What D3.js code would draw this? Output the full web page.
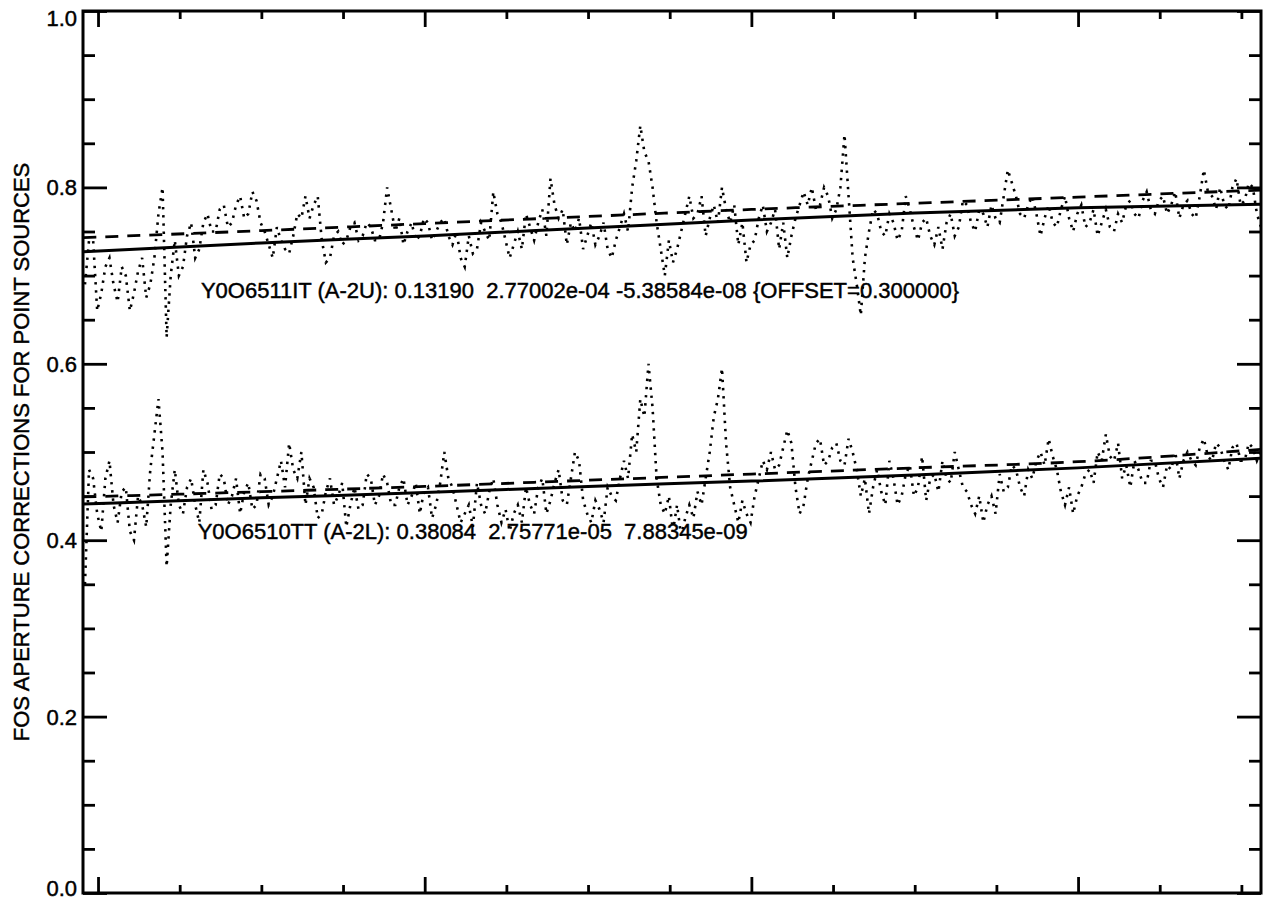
<!DOCTYPE html>
<html lang="en">
<head>
  <meta charset="utf-8"/>
  <title>FOS Aperture Corrections</title>
  <script src="https://d3js.org/d3.v7.min.js"></script>
  <style>
    html, body { margin: 0; padding: 0; background: #fff; }
    svg { display: block; font-family: "Liberation Sans", Arial, Helvetica, sans-serif; }
    svg text { fill: #000; stroke: #000; stroke-width: 0.45px; }
    .note { white-space: pre; }
  </style>
</head>
<body>
<svg id="chart" width="1270" height="901"></svg>
<script>
  // wavelength grid of the sampled spectra (Angstrom)
  const wave = d3.range(1592, 2312.1, 2.5);

  // A-2U ratio (already offset by +0.3)
  const upperVals = [
    0.69,0.74, 0.74,0.66, 0.68,0.71, 0.72,0.69, 0.67,0.71, 0.70,0.66, 0.68,0.705, 0.72,0.675, 0.69,0.72, 0.77,0.80,
    0.63,0.70, 0.74,0.70, 0.71,0.745, 0.76,0.72, 0.73,0.76, 0.77,0.75, 0.75,0.775, 0.78,0.755, 0.76,0.78, 0.79,0.765,
    0.77,0.795, 0.785,0.76, 0.75,0.735, 0.72,0.755, 0.74,0.73, 0.725,0.745, 0.77,0.765, 0.79,0.765, 0.78,0.79, 0.74,0.715,
    0.72,0.745, 0.75,0.735, 0.74,0.755, 0.76,0.74, 0.745,0.76, 0.755,0.74, 0.74,0.76, 0.80,0.775, 0.75,0.765, 0.735,0.75,
    0.76,0.74, 0.745,0.765, 0.76,0.74, 0.75,0.76, 0.765,0.745, 0.735,0.75, 0.72,0.71, 0.745,0.725, 0.73,0.76, 0.75,0.74,
    0.795,0.77, 0.76,0.74, 0.72,0.735, 0.75,0.73, 0.77,0.755, 0.74,0.76, 0.775,0.745, 0.81,0.78, 0.765,0.775, 0.735,0.76,
    0.75,0.765, 0.73,0.745, 0.76,0.735, 0.745,0.76, 0.73,0.72, 0.74,0.755, 0.77,0.75, 0.80,0.83, 0.87,0.84, 0.83,0.80,
    0.76,0.73, 0.70,0.74, 0.715,0.73, 0.75,0.77, 0.79,0.765, 0.77,0.79, 0.745,0.765, 0.78,0.76, 0.80,0.775, 0.76,0.78,
    0.735,0.76, 0.715,0.735, 0.74,0.765, 0.78,0.75, 0.76,0.775, 0.73,0.76, 0.72,0.745, 0.765,0.78, 0.795,0.78, 0.80,0.775,
    0.78,0.80, 0.79,0.765, 0.775,0.80, 0.86,0.79, 0.72,0.69, 0.655,0.72, 0.75,0.775, 0.77,0.75, 0.745,0.77, 0.76,0.74,
    0.75,0.79, 0.775,0.755, 0.74,0.76, 0.765,0.745, 0.735,0.755, 0.73,0.76, 0.77,0.745, 0.755,0.785, 0.78,0.76, 0.75,0.775,
    0.77,0.755, 0.78,0.765, 0.76,0.79, 0.82,0.805, 0.79,0.77, 0.765,0.78, 0.79,0.77, 0.745,0.765, 0.78,0.76, 0.755,0.775,
    0.79,0.765, 0.75,0.77, 0.78,0.755, 0.76,0.775, 0.745,0.76, 0.775,0.755, 0.75,0.77, 0.76,0.78, 0.785,0.77, 0.765,0.785,
    0.795,0.775, 0.77,0.785, 0.79,0.77, 0.78,0.795, 0.765,0.78, 0.785,0.77, 0.765,0.79, 0.82,0.795, 0.79,0.775, 0.80,0.78,
    0.775,0.80, 0.81,0.78, 0.785,0.805, 0.80,0.77, 0.755
  ];

  // A-2L ratio
  const lowerVals = [
    0.35,0.48, 0.47,0.43, 0.41,0.47, 0.49,0.44, 0.42,0.455, 0.46,0.41, 0.40,0.45, 0.44,0.415, 0.48,0.52, 0.56,0.50,
    0.37,0.44, 0.48,0.44, 0.43,0.46, 0.47,0.44, 0.42,0.48, 0.465,0.435, 0.44,0.475, 0.47,0.44, 0.45,0.47, 0.43,0.455,
    0.465,0.435, 0.44,0.475, 0.47,0.44, 0.45,0.47, 0.49,0.46, 0.51,0.48, 0.47,0.50, 0.44,0.47, 0.46,0.425, 0.43,0.455,
    0.47,0.44, 0.45,0.465, 0.415,0.44, 0.46,0.435, 0.44,0.475, 0.47,0.44, 0.45,0.475, 0.465,0.44, 0.44,0.46, 0.47,0.44,
    0.45,0.465, 0.43,0.455, 0.46,0.425, 0.44,0.465, 0.50,0.47, 0.46,0.44, 0.42,0.43, 0.44,0.415, 0.465,0.44, 0.43,0.455,
    0.47,0.44, 0.42,0.435, 0.41,0.43, 0.44,0.42, 0.46,0.44, 0.43,0.46, 0.47,0.43, 0.445,0.465, 0.48,0.445, 0.44,0.47,
    0.50,0.49, 0.445,0.43, 0.42,0.445, 0.435,0.42, 0.46,0.45, 0.445,0.47, 0.49,0.47, 0.52,0.50, 0.56,0.54, 0.60,0.55,
    0.47,0.44, 0.43,0.45, 0.41,0.44, 0.405,0.425, 0.44,0.425, 0.455,0.44, 0.47,0.50, 0.54,0.56, 0.595,0.51, 0.46,0.44,
    0.42,0.445, 0.43,0.42, 0.45,0.47, 0.49,0.48, 0.50,0.48, 0.485,0.505, 0.525,0.51, 0.46,0.43, 0.44,0.47, 0.49,0.51,
    0.515,0.485, 0.49,0.505, 0.51,0.49, 0.485,0.515, 0.50,0.48, 0.45,0.47, 0.43,0.46, 0.48,0.455, 0.44,0.49, 0.47,0.44,
    0.45,0.475, 0.485,0.45, 0.46,0.495, 0.445,0.47, 0.475,0.455, 0.49,0.47, 0.465,0.50, 0.48,0.46, 0.455,0.44, 0.43,0.45,
    0.42,0.44, 0.45,0.43, 0.475,0.455, 0.46,0.485, 0.48,0.46, 0.45,0.48, 0.47,0.49, 0.50,0.485, 0.515,0.495, 0.48,0.455,
    0.44,0.46, 0.43,0.45, 0.46,0.475, 0.48,0.465, 0.50,0.49, 0.52,0.495, 0.49,0.51, 0.47,0.485, 0.46,0.49, 0.48,0.465,
    0.465,0.49, 0.49,0.47, 0.46,0.485, 0.48,0.50, 0.47,0.49, 0.50,0.49, 0.485,0.505, 0.515,0.495, 0.49,0.51, 0.505,0.49,
    0.48,0.505, 0.51,0.49, 0.49,0.51, 0.505,0.49, 0.50
  ];

  // polynomial fits (solid) and smoothed curves (dashed), read at a few wavelengths
  const fitWave = [1591, 1700, 1800, 1900, 2000, 2100, 2200, 2312];
  const upperFit = [0.727, 0.737, 0.745, 0.754, 0.763, 0.771, 0.777, 0.781];
  const lowerFit = [0.441, 0.448, 0.454, 0.461, 0.467, 0.474, 0.482, 0.493];
  const upperSmooth = [0.743, 0.751, 0.759, 0.767, 0.775, 0.782, 0.789, 0.797];
  const lowerSmooth = [0.449, 0.455, 0.461, 0.468, 0.475, 0.482, 0.489, 0.503];

  const yTicks = [0.0, 0.2, 0.4, 0.6, 0.8, 1.0];
  const xMajor = [1600, 1800, 2000, 2200];
  const yLabel = "FOS APERTURE CORRECTIONS FOR POINT SOURCES";
  const upperNote = "Y0O6511IT (A-2U): 0.13190  2.77002e-04 -5.38584e-08 {OFFSET=0.300000}";
  const lowerNote = "Y0O6510TT (A-2L): 0.38084  2.75771e-05  7.88345e-09";

  const svg = d3.select("#chart");
  const pLeft = 83, pRight = 1261, pTop = 11, pBottom = 893;

  const x = d3.scaleLinear().domain([1590.8, 2312]).range([pLeft, pRight]);
  const y = d3.scaleLinear().domain([0, 1]).range([pBottom, pTop]);

  svg.append("clipPath").attr("id", "plot-clip")
    .append("rect")
    .attr("x", pLeft).attr("y", pTop)
    .attr("width", pRight - pLeft).attr("height", pBottom - pTop);

  const plot = svg.append("g").attr("clip-path", "url(#plot-clip)");

  const line = d3.line()
    .x(d => x(d[0]))
    .y(d => y(d[1]));
  const smoothLine = d3.line()
    .x(d => x(d[0]))
    .y(d => y(d[1]))
    .curve(d3.curveMonotoneX);

  // noisy spectra, drawn with a dotted line
  [upperVals, lowerVals].forEach(vals => {
    plot.append("path")
      .datum(vals.map((v, i) => [wave[i], v]))
      .attr("fill", "none")
      .attr("stroke", "#000")
      .attr("stroke-width", 2.6)
      .attr("stroke-dasharray", "2.4 5.8")
      .attr("d", line);
  });

  // dashed curves
  [upperSmooth, lowerSmooth].forEach(vals => {
    plot.append("path")
      .datum(vals.map((v, i) => [fitWave[i], v]))
      .attr("fill", "none")
      .attr("stroke", "#000")
      .attr("stroke-width", 2.8)
      .attr("stroke-dasharray", "13 9")
      .attr("d", smoothLine);
  });

  // solid fits
  [upperFit, lowerFit].forEach(vals => {
    plot.append("path")
      .datum(vals.map((v, i) => [fitWave[i], v]))
      .attr("fill", "none")
      .attr("stroke", "#000")
      .attr("stroke-width", 3)
      .attr("d", smoothLine);
  });

  // axes: left/right with majors every 0.2 and minors every 0.05
  const yAll = d3.range(0, 1.0001, 0.05);
  const xAll = d3.range(1600, 2301, 50);
  const isMajorY = v => Math.abs(v * 5 - Math.round(v * 5)) < 1e-6;

  const axisL = svg.append("g")
    .attr("transform", `translate(${pLeft},0)`)
    .call(d3.axisRight(y).tickValues(yAll).tickSize(24).tickFormat(""));
  axisL.selectAll(".tick line")
    .attr("x2", d => isMajorY(d) ? 24 : 12);

  const axisR = svg.append("g")
    .attr("transform", `translate(${pRight},0)`)
    .call(d3.axisLeft(y).tickValues(yAll).tickSize(24).tickFormat(""));
  axisR.selectAll(".tick line")
    .attr("x2", d => isMajorY(d) ? -24 : -12);

  const axisB = svg.append("g")
    .attr("transform", `translate(0,${pBottom})`)
    .call(d3.axisTop(x).tickValues(xAll).tickSize(16).tickFormat(""));
  axisB.selectAll(".tick line")
    .attr("y2", d => xMajor.includes(d) ? -16 : -8);

  const axisT = svg.append("g")
    .attr("transform", `translate(0,${pTop})`)
    .call(d3.axisBottom(x).tickValues(xAll).tickSize(16).tickFormat(""));
  axisT.selectAll(".tick line")
    .attr("y2", d => xMajor.includes(d) ? 16 : 8);

  [axisL, axisR, axisB, axisT].forEach(a => {
    a.select(".domain").remove();
    a.selectAll(".tick line").attr("stroke", "#000").attr("stroke-width", 2.8);
  });

  svg.append("rect")
    .attr("x", pLeft).attr("y", pTop)
    .attr("width", pRight - pLeft).attr("height", pBottom - pTop)
    .attr("fill", "none")
    .attr("stroke", "#000")
    .attr("stroke-width", 3);

  // y tick labels (end labels kept inside the page)
  svg.append("g").selectAll("text")
    .data(yTicks)
    .join("text")
    .attr("x", pLeft - 6)
    .attr("y", d => Math.min(Math.max(y(d), pTop + 7), pBottom - 5))
    .attr("dy", "0.36em")
    .attr("text-anchor", "end")
    .attr("font-size", 22)
    .text(d => d3.format(".1f")(d));

  svg.append("text")
    .attr("transform", `translate(29,${(pTop + pBottom) / 2}) rotate(-90)`)
    .attr("text-anchor", "middle")
    .attr("font-size", 22)
    .text(yLabel);

  svg.append("text")
    .attr("class", "note")
    .attr("x", x(1663))
    .attr("y", y(0.675))
    .attr("font-size", 22)
    .text(upperNote);

  svg.append("text")
    .attr("class", "note")
    .attr("x", x(1661))
    .attr("y", y(0.401))
    .attr("font-size", 22)
    .text(lowerNote);
</script>
</body>
</html>
